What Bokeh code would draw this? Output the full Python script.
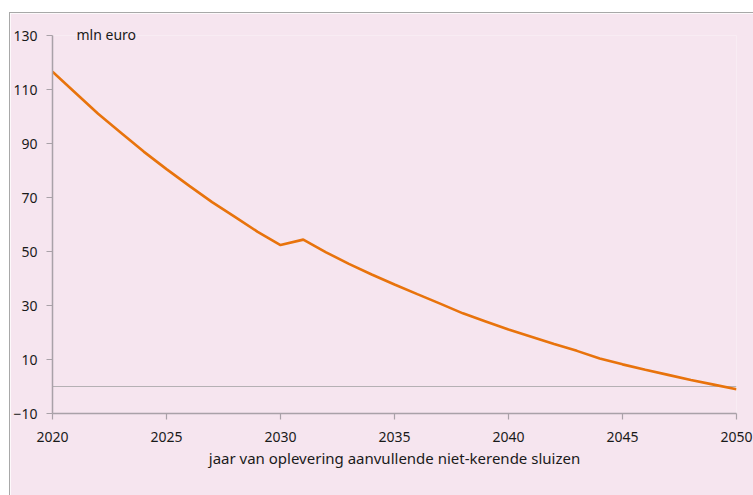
from bokeh.plotting import figure
from bokeh.models import FixedTicker, Range1d
from bokeh.embed import file_html
from bokeh.resources import INLINE

years = list(range(2020, 2051))
values = [116.6, 108.8, 101.0, 94.0, 87.0, 80.5, 74.3, 68.3, 62.8, 57.3,
          52.4, 54.4, 49.7, 45.4, 41.5, 37.8, 34.2, 30.7, 27.1, 24.1,
          21.1, 18.4, 15.7, 13.2, 10.4, 8.2, 6.2, 4.3, 2.4, 0.7, -1.0]
x_ticks = [2020, 2025, 2030, 2035, 2040, 2045, 2050]
y_ticks = [-10, 10, 30, 50, 70, 90, 110, 130]
zero_x = [2020, 2050]
zero_y = [0, 0]

PINK = "#f6e5ef"
AXIS = "#a9a1a8"
FONT = "Noto Sans"

p = figure(width=744, height=483, output_backend="svg", toolbar_location=None,
           x_range=Range1d(2020, 2050), y_range=Range1d(-10, 130),
           min_border_left=40, min_border_right=18, min_border_top=22,
           min_border_bottom=83)
p.margin = (12, 0, 0, 9)
p.styles = {"border-left": "1px solid #a8a8a8", "border-top": "1px solid #a8a8a8"}
p.background_fill_color = PINK
p.border_fill_color = PINK
p.outline_line_color = None
p.xgrid.visible = False
p.ygrid.visible = False

p.title.text = "mln euro"
p.title.align = "left"
p.title.offset = 24
p.title.standoff = -16
p.title.text_font = FONT
p.title.text_font_size = "14px"
p.title.text_font_style = "normal"
p.title.text_color = "#1a1a1a"

p.line(zero_x, zero_y, line_color="#b5b0b4", line_width=1.2)
p.line(years, values, line_color="#e8730c", line_width=2.6)

for ax in (p.xaxis, p.yaxis):
    ax.axis_line_color = AXIS
    ax.axis_line_width = 1.5
    ax.major_tick_line_color = AXIS
    ax.major_tick_line_width = 1.2
    ax.major_tick_in = 0
    ax.major_tick_out = 6
    ax.minor_tick_line_color = None
    ax.major_label_text_font = FONT
    ax.major_label_text_font_size = "14px"
    ax.major_label_text_color = "#1a1a1a"

p.xaxis.ticker = FixedTicker(ticks=x_ticks)
p.yaxis.ticker = FixedTicker(ticks=y_ticks)
p.xaxis.major_label_standoff = 12
p.yaxis.major_label_standoff = 9
p.xaxis.axis_label = "jaar van oplevering aanvullende niet-kerende sluizen"
p.xaxis.axis_label_text_font = FONT
p.xaxis.axis_label_text_font_size = "15px"
p.xaxis.axis_label_text_font_style = "normal"
p.xaxis.axis_label_text_color = "#1a1a1a"
p.xaxis.axis_label_standoff = 3

open("out.html", "w").write(file_html(p, INLINE))
